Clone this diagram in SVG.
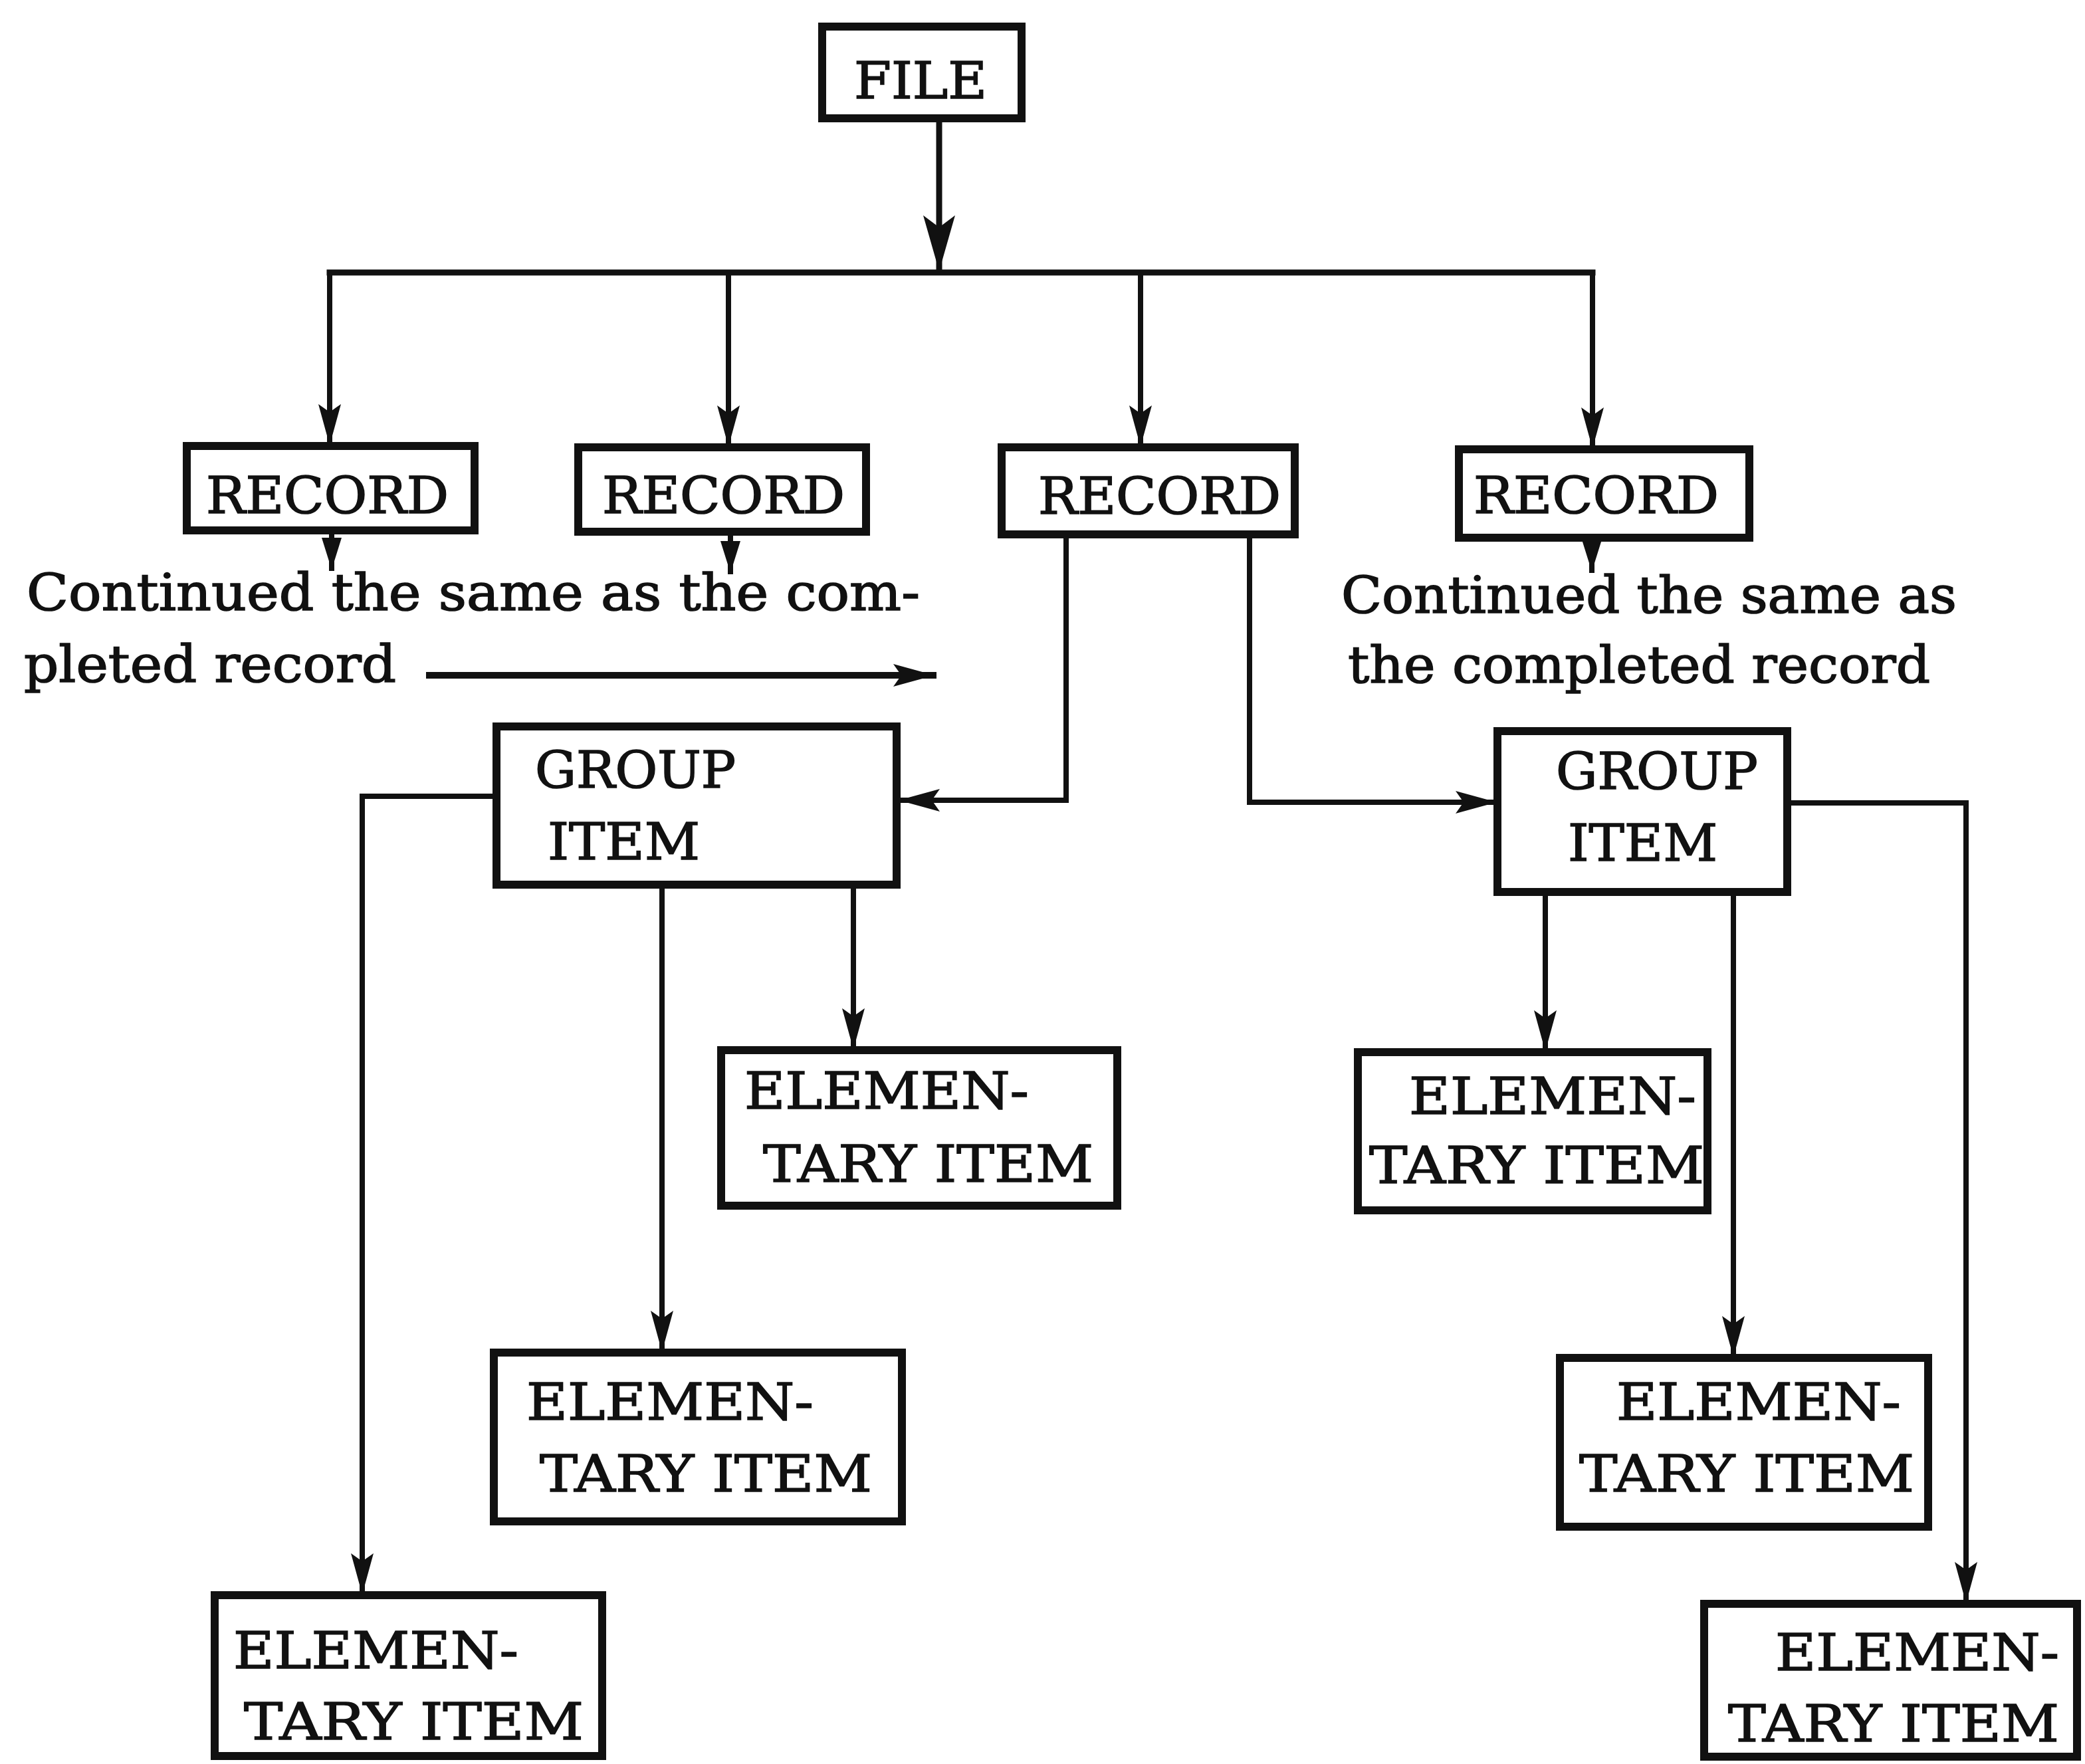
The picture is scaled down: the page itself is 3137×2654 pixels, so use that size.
<svg xmlns="http://www.w3.org/2000/svg" width="3137" height="2654" viewBox="0 0 3137 2654">
<style>
.box{fill:#fff;stroke:#111;stroke-width:12}
.t{font-family:"DejaVu Serif","Liberation Serif",serif;font-size:76px;fill:#111;stroke:#111;stroke-width:1.6}
.c{fill:none;stroke:#111;stroke-width:8;stroke-linecap:square}
.bus{stroke-width:9}
.thick{stroke-width:10}
</style>
<defs>
<marker id="ah" markerUnits="userSpaceOnUse" markerWidth="62" markerHeight="38" refX="60" refY="19" orient="auto">
<path d="M0,2 L62,19 L0,36 L12,19 z" fill="#111"/>
</marker>
<marker id="ahs" markerUnits="userSpaceOnUse" markerWidth="48" markerHeight="32" refX="46" refY="16" orient="auto">
<path d="M0,1 L48,16 L0,31 z" fill="#111"/>
</marker>
<marker id="ahb" markerUnits="userSpaceOnUse" markerWidth="84" markerHeight="52" refX="82" refY="26" orient="auto">
<path d="M0,2 L84,26 L0,50 L18,26 z" fill="#111"/>
</marker>
</defs>
<rect width="3137" height="2654" fill="#fff"/>
<g id="connectors">
<path class="c bus" d="M1413,180 V406" marker-end="url(#ahb)"/>
<path class="c bus" d="M496,410 H2396"/>
<path class="c" d="M496,410 V668" marker-end="url(#ah)"/>
<path class="c" d="M1096,410 V670" marker-end="url(#ah)"/>
<path class="c" d="M1716,410 V670" marker-end="url(#ah)"/>
<path class="c" d="M2396,410 V673" marker-end="url(#ah)"/>
<path class="c" d="M499,800 V855" marker-end="url(#ahs)"/>
<path class="c" d="M1099,803 V860" marker-end="url(#ahs)"/>
<path class="c" d="M2395,812 V858" marker-end="url(#ahs)"/>
<path class="c thick" d="M646,1016 H1404" marker-end="url(#ah)"/>
<path class="c" d="M1604,807 V1204 H1354" marker-end="url(#ah)"/>
<path class="c" d="M1880,807 V1207 H2250" marker-end="url(#ah)"/>
<path class="c" d="M744,1198 H545 V2397" marker-end="url(#ah)"/>
<path class="c" d="M996,1334 V2032" marker-end="url(#ah)"/>
<path class="c" d="M1284,1334 V1577" marker-end="url(#ah)"/>
<path class="c" d="M2692,1208 H2958 V2410" marker-end="url(#ah)"/>
<path class="c" d="M2325,1345 V1580" marker-end="url(#ah)"/>
<path class="c" d="M2608,1345 V2040" marker-end="url(#ah)"/>
</g>
<g id="file">
<rect class="box" x="1237" y="40" width="300" height="138"/>
<text class="t" x="1285" y="148" textLength="200" lengthAdjust="spacingAndGlyphs">FILE</text>
</g>
<g id="record1">
<rect class="box" x="281" y="671" width="433" height="127"/>
<text class="t" x="310" y="772" textLength="365" lengthAdjust="spacingAndGlyphs">RECORD</text>
</g>
<g id="record2">
<rect class="box" x="870" y="673" width="433" height="127"/>
<text class="t" x="906" y="772" textLength="365" lengthAdjust="spacingAndGlyphs">RECORD</text>
</g>
<g id="record3">
<rect class="box" x="1507" y="673" width="441" height="131"/>
<text class="t" x="1562" y="773" textLength="365" lengthAdjust="spacingAndGlyphs">RECORD</text>
</g>
<g id="record4">
<rect class="box" x="2195" y="676" width="437" height="133"/>
<text class="t" x="2217" y="772" textLength="369" lengthAdjust="spacingAndGlyphs">RECORD</text>
</g>
<g id="note-left">
<text class="t" x="40" y="918" textLength="1344" lengthAdjust="spacingAndGlyphs">Continued the same as the com-</text>
<text class="t" x="36" y="1026" textLength="560" lengthAdjust="spacingAndGlyphs">pleted record</text>
</g>
<g id="note-right">
<text class="t" x="2018" y="922" textLength="926" lengthAdjust="spacingAndGlyphs">Continued the same as</text>
<text class="t" x="2028" y="1027" textLength="876" lengthAdjust="spacingAndGlyphs">the completed record</text>
</g>
<g id="group1">
<rect class="box" x="747" y="1093" width="602" height="238"/>
<text class="t" x="805" y="1185" textLength="302" lengthAdjust="spacingAndGlyphs">GROUP</text>
<text class="t" x="824" y="1293" textLength="229" lengthAdjust="spacingAndGlyphs">ITEM</text>
</g>
<g id="group2">
<rect class="box" x="2253" y="1100" width="436" height="242"/>
<text class="t" x="2341" y="1187" textLength="304" lengthAdjust="spacingAndGlyphs">GROUP</text>
<text class="t" x="2359" y="1295" textLength="225" lengthAdjust="spacingAndGlyphs">ITEM</text>
</g>
<g id="elem-a">
<rect class="box" x="1085" y="1580" width="596" height="234"/>
<text class="t" x="1120" y="1668" textLength="428" lengthAdjust="spacingAndGlyphs">ELEMEN-</text>
<text class="t" x="1148" y="1778" textLength="497" lengthAdjust="spacingAndGlyphs">TARY ITEM</text>
</g>
<g id="elem-b">
<rect class="box" x="743" y="2035" width="614" height="254"/>
<text class="t" x="792" y="2136" textLength="432" lengthAdjust="spacingAndGlyphs">ELEMEN-</text>
<text class="t" x="812" y="2244" textLength="500" lengthAdjust="spacingAndGlyphs">TARY ITEM</text>
</g>
<g id="elem-c">
<rect class="box" x="323" y="2400" width="583" height="242"/>
<text class="t" x="351" y="2510" textLength="429" lengthAdjust="spacingAndGlyphs">ELEMEN-</text>
<text class="t" x="367" y="2617" textLength="511" lengthAdjust="spacingAndGlyphs">TARY ITEM</text>
</g>
<g id="elem-d">
<rect class="box" x="2043" y="1583" width="526" height="238"/>
<text class="t" x="2120" y="1676" textLength="432" lengthAdjust="spacingAndGlyphs">ELEMEN-</text>
<text class="t" x="2060" y="1780" textLength="504" lengthAdjust="spacingAndGlyphs">TARY ITEM</text>
</g>
<g id="elem-e">
<rect class="box" x="2347" y="2043" width="554" height="254"/>
<text class="t" x="2432" y="2136" textLength="428" lengthAdjust="spacingAndGlyphs">ELEMEN-</text>
<text class="t" x="2376" y="2244" textLength="504" lengthAdjust="spacingAndGlyphs">TARY ITEM</text>
</g>
<g id="elem-f">
<rect class="box" x="2564" y="2413" width="561" height="230"/>
<text class="t" x="2671" y="2513" textLength="427" lengthAdjust="spacingAndGlyphs">ELEMEN-</text>
<text class="t" x="2600" y="2620" textLength="498" lengthAdjust="spacingAndGlyphs">TARY ITEM</text>
</g>
</svg>
